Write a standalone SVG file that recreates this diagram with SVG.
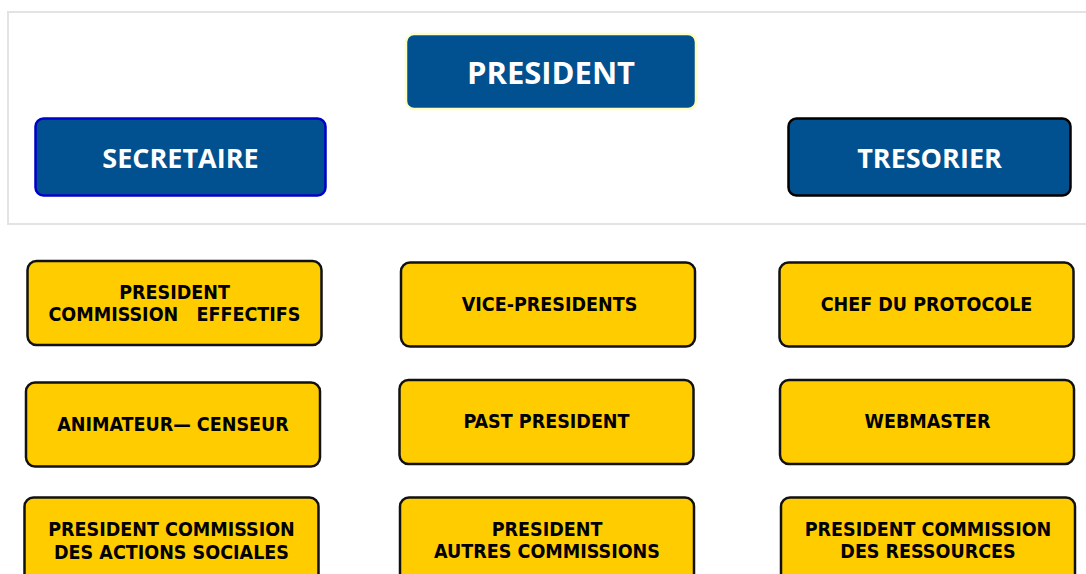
<svg xmlns="http://www.w3.org/2000/svg" width="1086" height="574" viewBox="0 0 1086 574">
<style>
.panel{fill:#ffffff;stroke:#e3e3e3;stroke-width:2}
.blue{fill:#01508f;stroke-width:2.5}
.yel{fill:#ffcc00;stroke:#111111;stroke-width:2.5}
.bt{font-family:"Open Sans","DejaVu Sans",sans-serif;font-weight:bold;fill:#ffffff;text-anchor:middle}
.yt{font-family:"DejaVu Sans Condensed","DejaVu Sans",sans-serif;font-weight:bold;font-size:19.5px;fill:#000000;text-anchor:middle;white-space:pre}
</style>
<rect x="0" y="0" width="1086" height="574" fill="#ffffff"/>
<rect class="panel" x="8" y="12" width="1090" height="212"/>
<g id="connectors"></g>
<g id="president">
<rect class="blue" x="406" y="34" width="290" height="75" rx="8" stroke="#ffffc0"/>
<text class="bt" x="551" y="84" font-size="31">PRESIDENT</text>
</g>
<g id="secretaire">
<rect class="blue" x="35.5" y="118.5" width="290" height="77" rx="8" stroke="#0000c8"/>
<text class="bt" x="180.5" y="168" font-size="27">SECRETAIRE</text>
</g>
<g id="tresorier">
<rect class="blue" x="788.5" y="118.5" width="282" height="77" rx="8" stroke="#000000"/>
<text class="bt" x="929.5" y="168" font-size="27">TRESORIER</text>
</g>
<g id="pres-effectifs">
<rect class="yel" x="27.5" y="261" width="294" height="84" rx="9"/>
<text class="yt" x="174.5" y="299">PRESIDENT</text>
<text class="yt" x="174.5" y="321">COMMISSION   EFFECTIFS</text>
</g>
<g id="vice-presidents">
<rect class="yel" x="401" y="262.5" width="294" height="84" rx="9"/>
<text class="yt" x="549.5" y="311">VICE-PRESIDENTS</text>
</g>
<g id="chef-protocole">
<rect class="yel" x="779.5" y="262.5" width="294" height="84" rx="9"/>
<text class="yt" x="926.5" y="311">CHEF DU PROTOCOLE</text>
</g>
<g id="animateur">
<rect class="yel" x="26" y="382.5" width="294" height="84" rx="9"/>
<text class="yt" x="173" y="431">ANIMATEUR— CENSEUR</text>
</g>
<g id="past-president">
<rect class="yel" x="399.5" y="380" width="294" height="84" rx="9"/>
<text class="yt" x="546.5" y="428">PAST PRESIDENT</text>
</g>
<g id="webmaster">
<rect class="yel" x="780" y="380" width="294" height="84" rx="9"/>
<text class="yt" x="927.5" y="428">WEBMASTER</text>
</g>
<g id="pres-actions-sociales">
<rect class="yel" x="24.5" y="497.5" width="294" height="90" rx="9"/>
<text class="yt" x="171.5" y="536">PRESIDENT COMMISSION</text>
<text class="yt" x="171.5" y="559">DES ACTIONS SOCIALES</text>
</g>
<g id="pres-autres-commissions">
<rect class="yel" x="400" y="497.5" width="294" height="90" rx="9"/>
<text class="yt" x="547" y="536">PRESIDENT</text>
<text class="yt" x="547" y="557.5">AUTRES COMMISSIONS</text>
</g>
<g id="pres-ressources">
<rect class="yel" x="781" y="497.5" width="294" height="90" rx="9"/>
<text class="yt" x="928" y="536">PRESIDENT COMMISSION</text>
<text class="yt" x="928" y="557.5">DES RESSOURCES</text>
</g>
</svg>
